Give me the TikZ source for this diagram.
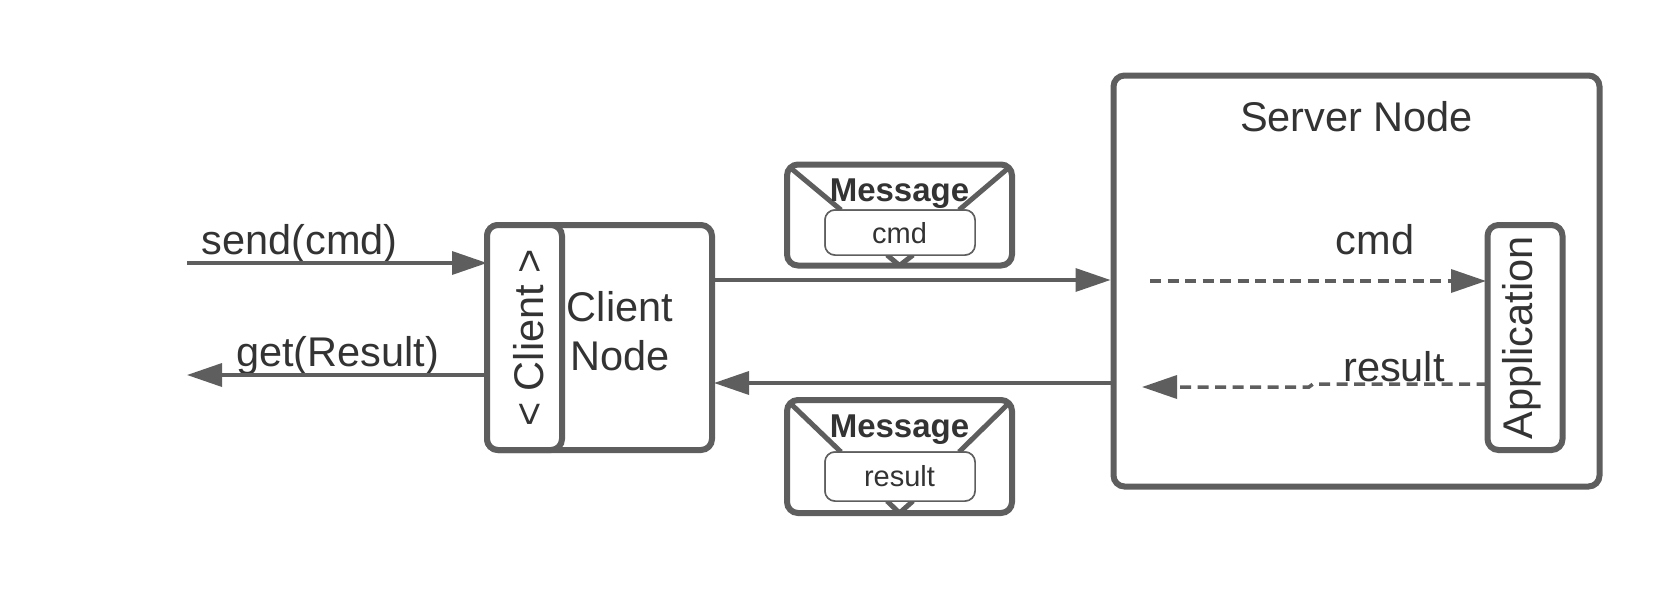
\documentclass[tikz,border=0pt]{standalone}
\usepackage{fontspec}
\setmainfont{Liberation Sans}
\usetikzlibrary{arrows.meta}
\definecolor{linegray}{HTML}{5E5E5E}
\definecolor{textgray}{HTML}{333333}
\tikzset{
  box/.style={draw=linegray,line width=6pt,rounded corners=11pt,inner sep=0pt,outer sep=0pt,fill=white},
  subbox/.style={draw=linegray,line width=1.5pt,rounded corners=10pt,inner sep=0pt,outer sep=0pt,fill=white},
  label/.style={text=textgray,inner sep=0pt,font=\fontsize{41.5}{49.5}\selectfont,align=center},
  msgtitle/.style={text=textgray,inner sep=0pt,font=\fontsize{33}{38}\selectfont\bfseries},
  msgtext/.style={text=textgray,font=\fontsize{29}{32}\selectfont},
  flow/.style={draw=linegray,line width=3.5pt,-{Triangle[length=35pt,width=23pt]}},
  dashflow/.style={flow,dash pattern=on 11pt off 6.5pt},
  flap/.style={draw=linegray,line width=5pt,line join=round}
}
\begin{document}
\begin{tikzpicture}[x=1pt,y=-1pt]
\useasboundingbox (0,0) rectangle (1676,589);
\node[box,minimum width=225pt,minimum height=225pt] (clientnode) at (599.5,337.5) {};
\node[box,minimum width=75pt,minimum height=225pt] (client) at (524.5,337.5) {};
\node[box,minimum width=486pt,minimum height=411pt] (servernode) at (1356.5,281) {};
\node[box,minimum width=75pt,minimum height=225pt] (application) at (1525,337.5) {};
\node[box,minimum width=225pt,minimum height=101pt] (msgcmd) at (899.5,215) {};
\node[box,minimum width=225pt,minimum height=113pt] (msgresult) at (899.5,456.5) {};
\node[subbox,minimum width=150pt,minimum height=45pt] (cmdbox) at (900,232.5) {};
\node[subbox,minimum width=150pt,minimum height=49pt] (resultbox) at (900,476.5) {};
\coordinate (sendstart) at (187,263);
\coordinate (getend) at (187,375);
\coordinate (cmdport) at (0,280);
\coordinate (resultport) at (0,383);
\coordinate (cmdstart) at (1150,281);
\coordinate (resultbend) at (1313,384);
\coordinate (resultjog) at (1309,387);
\coordinate (resultend) at (1142,387);
\draw[flap] ([shift={(3pt,-3pt)}]msgcmd.north west) -- ([xshift=16pt]cmdbox.north west);
\draw[flap] ([shift={(-3pt,-3pt)}]msgcmd.north east) -- ([xshift=-16pt]cmdbox.north east);
\draw[flap] ([xshift=-13pt]cmdbox.south) -- (msgcmd.south) -- ([xshift=13pt]cmdbox.south);
\draw[flap] ([shift={(3pt,-3pt)}]msgresult.north west) -- ([xshift=16pt]resultbox.north west);
\draw[flap] ([shift={(-3pt,-3pt)}]msgresult.north east) -- ([xshift=-16pt]resultbox.north east);
\draw[flap] ([xshift=-13pt]resultbox.south) -- (msgresult.south) -- ([xshift=13pt]resultbox.south);
\node[subbox,minimum width=150pt,minimum height=45pt] at (cmdbox) {};
\node[subbox,minimum width=150pt,minimum height=49pt] at (resultbox) {};
\node[msgtitle] (titlecmd) at (899.5,194) {Message};
\node[msgtitle] (titleresult) at (899.5,430) {Message};
\node[msgtext] (textcmd) at (899.5,233) {cmd};
\node[msgtext] (textresult) at (899.5,476) {result};
\node[label] (sendlabel) at (299.5,244) {send(cmd)};
\node[label] (getlabel) at (337.5,356) {get(Result)};
\node[label,rotate=90] (clientlabel) at (529,338) {< Client >};
\node[label] (nodelabel) at (620,331) {Client\\Node};
\node[label] (serverlabel) at (1356.5,116.5) {Server Node};
\node[label] (cmdlabel) at (1375,240) {cmd};
\node[label] (resultlabel) at (1394,366.5) {result};
\node[label,rotate=90] (applabel) at (1522,338) {Application};
\draw[flow] (sendstart) -- (sendstart -| client.west);
\draw[flow] (client.west |- getend) -- (getend);
\draw[flow,shorten >=3pt] (clientnode.east |- cmdport) -- (servernode.west |- cmdport);
\draw[flow,shorten >=2pt] (servernode.west |- resultport) -- (clientnode.east |- resultport);
\draw[dashflow,shorten >=1.5pt] (cmdstart) -- (cmdstart -| application.west);
\draw[dashflow] (application.west |- resultbend) -- (resultbend) -- (resultjog) -- (resultend);
\end{tikzpicture}
\end{document}
